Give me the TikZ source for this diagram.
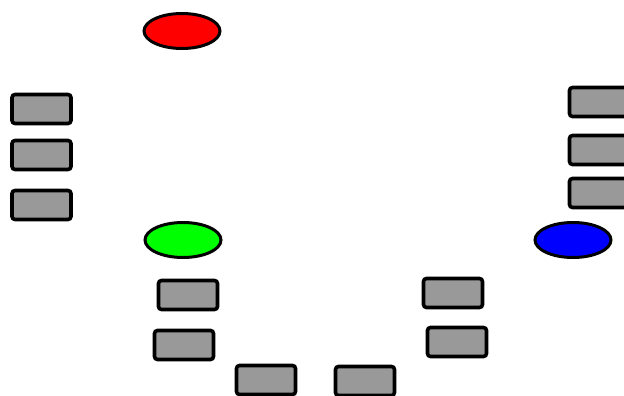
\documentclass[tikz,border=0pt]{standalone}
\usetikzlibrary{shapes.geometric}
\begin{document}
\begin{tikzpicture}[x=1pt,y=-1pt,
  box/.style={draw=black,fill=black!40,line width=3.6pt,rounded corners=3pt,minimum width=59pt,minimum height=29pt,inner sep=0pt},
  oval/.style={draw=black,ellipse,line width=3pt,minimum width=76pt,minimum height=35pt,inner sep=0pt}]
\useasboundingbox (0,0) rectangle (624,396);
\clip (0,0) rectangle (624,396);
\node[oval,fill=red] (red) at (182,31) {};
\node[oval,fill=green] (green) at (183,240) {};
\node[oval,fill=blue] (blue) at (573,240) {};
\node[box] (l1) at (41.5,109) {};
\node[box] (l2) at (41.5,155) {};
\node[box] (l3) at (41.5,205) {};
\node[box] (r1) at (599,102) {};
\node[box] (r2) at (599,150) {};
\node[box] (r3) at (599,193) {};
\node[box] (g1) at (188,295) {};
\node[box] (g2) at (184,345) {};
\node[box] (b1) at (266,380) {};
\node[box] (b2) at (365,381) {};
\node[box] (m1) at (453,293) {};
\node[box] (m2) at (457,342) {};
\end{tikzpicture}
\end{document}
